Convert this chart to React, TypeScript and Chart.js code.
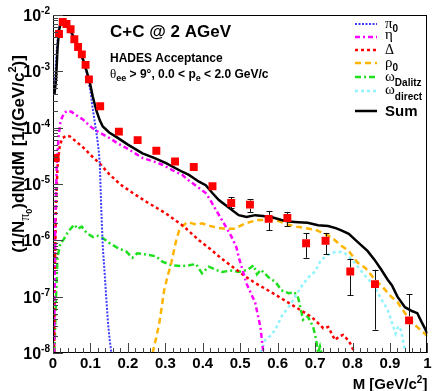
import React, { useEffect, useRef } from "react";
import { Chart, registerables } from "chart.js";
Chart.register(...registerables);

const SANS = '"Liberation Sans", Arial, Helvetica, sans-serif';
const SERIF = '"Liberation Serif", "DejaVu Serif", serif';

// ---- measured data points (mass, yield, error bar top, error bar bottom)
const dataM = [0.007, 0.016, 0.026, 0.036, 0.047, 0.057, 0.067, 0.077, 0.087, 0.096, 0.126, 0.176, 0.226, 0.276, 0.326, 0.376, 0.426, 0.476, 0.526, 0.576, 0.626, 0.676, 0.728, 0.794, 0.86, 0.951];
const dataY = [2.9e-5, 4.6e-3, 7.5e-3, 6.9e-3, 5.6e-3, 3.7e-3, 2.7e-3, 2.0e-3, 1.3e-3, 7.2e-4, 2.4e-4, 8.5e-5, 6.0e-5, 3.9e-5, 2.5e-5, 2.0e-5, 9.1e-6, 4.6e-6, 4.3e-6, 2.4e-6, 2.5e-6, 8.9e-7, 9.8e-7, 2.8e-7, 1.67e-7, 3.8e-8];
const dataYHigh = [2.9e-5, 4.6e-3, 7.5e-3, 6.9e-3, 5.6e-3, 3.7e-3, 2.7e-3, 2.0e-3, 1.3e-3, 7.2e-4, 2.4e-4, 1.0e-4, 6.8e-5, 4.3e-5, 2.7e-5, 2.2e-5, 1.08e-5, 5.9e-6, 5.4e-6, 3.3e-6, 3.2e-6, 1.35e-6, 1.35e-6, 4.7e-7, 3.0e-7, 1.1e-7];
const dataYLow = [2.9e-5, 4.6e-3, 7.5e-3, 6.9e-3, 5.6e-3, 3.7e-3, 2.7e-3, 2.0e-3, 1.3e-3, 7.2e-4, 2.4e-4, 7.2e-5, 5.4e-5, 3.5e-5, 2.3e-5, 1.8e-5, 7.8e-6, 3.75e-6, 3.2e-6, 1.5e-6, 1.8e-6, 4.9e-7, 5.7e-7, 1.07e-7, 2.6e-8, 1e-9];

// ---- simulated cocktail components
const pi0M = [0.004, 0.006, 0.01, 0.015, 0.02, 0.025, 0.03, 0.04, 0.05, 0.06, 0.07, 0.08, 0.09, 0.1, 0.106, 0.112, 0.118, 0.122, 0.125, 0.129, 0.133, 0.138, 0.142, 0.147, 0.151, 0.156];
const pi0Y = [4e-4, 8e-4, 2.5e-3, 5.5e-3, 7.2e-3, 7.7e-3, 7.4e-3, 6.1e-3, 4.6e-3, 3.3e-3, 2.3e-3, 1.55e-3, 9.5e-4, 4.5e-4, 2.2e-4, 1.2e-4, 6.5e-5, 4e-5, 2.3e-5, 3.5e-6, 7.6e-7, 2.6e-7, 1e-7, 3.4e-8, 1.8e-8, 1e-8];

const etaM = [0.003, 0.006, 0.01, 0.015, 0.02, 0.03, 0.04, 0.05, 0.06, 0.08, 0.1, 0.12, 0.15, 0.17, 0.2, 0.239, 0.27, 0.292, 0.32, 0.345, 0.363, 0.39, 0.408, 0.42, 0.435, 0.451, 0.465, 0.477, 0.49, 0.496, 0.505, 0.517, 0.53, 0.54, 0.554, 0.562];
const etaY = [1e-8, 2e-6, 2e-5, 7e-5, 1.3e-4, 1.85e-4, 2e-4, 1.9e-4, 1.7e-4, 1.4e-4, 1.05e-4, 8.5e-5, 6.6e-5, 5.4e-5, 4.2e-5, 2.9e-5, 2.5e-5, 2.2e-5, 1.75e-5, 1.45e-5, 1.15e-5, 8.5e-6, 6.9e-6, 5.2e-6, 3.5e-6, 2.3e-6, 1.6e-6, 1.15e-6, 7.5e-7, 5e-7, 3.2e-7, 1.7e-7, 1.1e-7, 7.8e-8, 2.9e-8, 1e-8];

const deltaM = [0.003, 0.005, 0.008, 0.012, 0.018, 0.025, 0.035, 0.045, 0.06, 0.08, 0.1, 0.125, 0.15, 0.18, 0.212, 0.25, 0.302, 0.35, 0.39, 0.42, 0.451, 0.49, 0.522, 0.54, 0.583, 0.629, 0.69, 0.708, 0.722, 0.735, 0.743, 0.753, 0.766, 0.775, 0.788, 0.796, 0.804, 0.808];
const deltaY = [1e-8, 3e-7, 4e-6, 2e-5, 4.8e-5, 6.5e-5, 7.2e-5, 7e-5, 5.8e-5, 4.5e-5, 3.3e-5, 2.3e-5, 1.5e-5, 9.8e-6, 7e-6, 4.8e-6, 3e-6, 1.75e-6, 1.0e-6, 7e-7, 4.7e-7, 3e-7, 2.1e-7, 1.75e-7, 1.2e-7, 7.8e-8, 4.4e-8, 3.4e-8, 2.75e-8, 2.9e-8, 2.3e-8, 1.7e-8, 2.0e-8, 2.1e-8, 1.7e-8, 1.4e-8, 1.05e-8, 8e-9];

const rhoM = [0.266, 0.275, 0.284, 0.297, 0.306, 0.316, 0.329, 0.337, 0.345, 0.358, 0.372, 0.382, 0.398, 0.42, 0.443, 0.465, 0.483, 0.5, 0.514, 0.53, 0.549, 0.57, 0.594, 0.61, 0.629, 0.65, 0.673, 0.7, 0.72, 0.743, 0.77, 0.79, 0.814, 0.835, 0.86, 0.88, 0.9, 0.92, 0.947, 0.97, 1.0];
const rhoY = [1e-8, 1.8e-8, 3.4e-8, 1.3e-7, 2.3e-7, 4e-7, 1e-6, 1.5e-6, 1.75e-6, 2.1e-6, 2.0e-6, 1.9e-6, 2.0e-6, 1.8e-6, 1.65e-6, 1.6e-6, 1.6e-6, 1.8e-6, 2.0e-6, 2.15e-6, 2.3e-6, 2.3e-6, 2.3e-6, 2.1e-6, 1.9e-6, 1.75e-6, 1.65e-6, 1.55e-6, 1.35e-6, 1.15e-6, 8e-7, 6.5e-7, 4e-7, 3.2e-7, 2e-7, 1.5e-7, 1.05e-7, 8e-8, 4.4e-8, 3e-8, 2e-8];

const omDalM = [0.004, 0.008, 0.012, 0.02, 0.027, 0.04, 0.05, 0.058, 0.065, 0.077, 0.09, 0.106, 0.12, 0.133, 0.15, 0.17, 0.196, 0.212, 0.225, 0.257, 0.275, 0.292, 0.318, 0.345, 0.363, 0.382, 0.398, 0.416, 0.435, 0.451, 0.475, 0.496, 0.52, 0.536, 0.545, 0.555, 0.576, 0.595, 0.61, 0.629, 0.645, 0.655, 0.668, 0.68, 0.695, 0.703, 0.708, 0.713, 0.72];
const omDalY = [1e-8, 1e-7, 5e-7, 9e-7, 1e-6, 1.4e-6, 1.7e-6, 1.9e-6, 1.6e-6, 1.75e-6, 1.35e-6, 1.15e-6, 1.2e-6, 1.1e-6, 9e-7, 7.5e-7, 6.3e-7, 4.9e-7, 5.9e-7, 5.5e-7, 5.2e-7, 4.2e-7, 3.6e-7, 3.5e-7, 3.6e-7, 3.8e-7, 2.6e-7, 3.4e-7, 3.0e-7, 2.75e-7, 2.9e-7, 2.75e-7, 3.0e-7, 3.6e-7, 2.5e-7, 3.0e-7, 2.2e-7, 1.8e-7, 1.3e-7, 1.15e-7, 1.2e-7, 9.5e-8, 3.9e-8, 4.5e-8, 2.9e-8, 1.7e-8, 1e-8, 1.3e-8, 8e-9];

const omDirM = [0.554, 0.567, 0.58, 0.594, 0.61, 0.625, 0.637, 0.65, 0.663, 0.682, 0.7, 0.716, 0.735, 0.753, 0.77, 0.78, 0.8, 0.814, 0.835, 0.859, 0.877, 0.894, 0.905, 0.915, 0.922, 0.93, 0.936, 0.942];
const omDirY = [1e-8, 1.7e-8, 2e-8, 2.6e-8, 4.4e-8, 6e-8, 7.8e-8, 1.1e-7, 1.5e-7, 2.2e-7, 2.8e-7, 4.5e-7, 5.5e-7, 6.2e-7, 6.2e-7, 5.9e-7, 4.5e-7, 3.4e-7, 2.3e-7, 1.5e-7, 9e-8, 5.8e-8, 3.5e-8, 2.2e-8, 3e-8, 2.5e-8, 1.5e-8, 1e-8];

const sumM = [0.004, 0.008, 0.012, 0.016, 0.02, 0.026, 0.03, 0.04, 0.05, 0.06, 0.07, 0.08, 0.09, 0.098, 0.106, 0.116, 0.125, 0.133, 0.15, 0.17, 0.2, 0.239, 0.27, 0.302, 0.345, 0.363, 0.39, 0.408, 0.425, 0.443, 0.47, 0.496, 0.517, 0.54, 0.56, 0.583, 0.61, 0.629, 0.655, 0.68, 0.708, 0.735, 0.755, 0.77, 0.79, 0.814, 0.84, 0.859, 0.877, 0.894, 0.905, 0.92, 0.94, 0.96, 0.973, 0.985, 0.995, 1.0];
const sumY = [4e-4, 7e-4, 2.5e-3, 5.3e-3, 7e-3, 7.9e-3, 7.7e-3, 6.4e-3, 4.8e-3, 3.5e-3, 2.5e-3, 1.65e-3, 1.0e-3, 6.5e-4, 3.6e-4, 2.0e-4, 1.35e-4, 1.05e-4, 8.2e-5, 6.8e-5, 5e-5, 3.5e-5, 2.9e-5, 2.35e-5, 1.65e-5, 1.45e-5, 1.1e-5, 9.5e-6, 7e-6, 5.2e-6, 3.8e-6, 2.8e-6, 2.6e-6, 2.8e-6, 2.7e-6, 2.6e-6, 2.3e-6, 2.15e-6, 2.1e-6, 2.05e-6, 1.85e-6, 1.8e-6, 1.65e-6, 1.5e-6, 1.3e-6, 9.3e-7, 6.5e-7, 4.5e-7, 3.0e-7, 2.0e-7, 1.6e-7, 1.0e-7, 6.5e-8, 5.5e-8, 5.1e-8, 3.5e-8, 2.6e-8, 2.2e-8];

// ---- axis ticks
const xTickValues = [0, 0.1, 0.2, 0.3, 0.4, 0.5, 0.6, 0.7, 0.8, 0.9, 1];
const xTickLabels = ["0", "0.1", "0.2", "0.3", "0.4", "0.5", "0.6", "0.7", "0.8", "0.9", "1"];
const yTickExponents = [-8, -7, -6, -5, -4, -3, -2];

type Part = { t: string; f: string; dy?: number };

function partsWidth(ctx: CanvasRenderingContext2D, parts: Part[]) {
  let w = 0;
  for (const p of parts) {
    ctx.font = p.f;
    w += ctx.measureText(p.t).width;
  }
  return w;
}
function drawParts(ctx: CanvasRenderingContext2D, x: number, y: number, parts: Part[]) {
  let cx = x;
  for (const p of parts) {
    ctx.font = p.f;
    ctx.fillText(p.t, cx, y + (p.dy || 0));
    cx += ctx.measureText(p.t).width;
  }
}

const COLORS = {
  pi0: "#3c3cff",
  eta: "#ff00ff",
  delta: "#ff0000",
  rho: "#ffb400",
  omDal: "#1ee01e",
  omDir: "#8ff4ff",
  sum: "#000000",
};

const legendItems: { color: string; dash: number[]; width: number; parts: Part[]; y: number; base: number }[] = [
  { color: COLORS.pi0, dash: [2, 1.5], width: 2, y: 24, base: 28, parts: [{ t: "π", f: `15px ${SERIF}` }, { t: "0", f: `bold 10px ${SANS}`, dy: 4 }] },
  { color: COLORS.eta, dash: [5, 3, 2, 3], width: 2.5, y: 37, base: 39, parts: [{ t: "η", f: `15px ${SERIF}` }] },
  { color: COLORS.delta, dash: [3, 3], width: 2.5, y: 50, base: 54, parts: [{ t: "Δ", f: `14px ${SERIF}` }] },
  { color: COLORS.rho, dash: [6, 4], width: 2.5, y: 63, base: 67, parts: [{ t: "ρ", f: `15px ${SERIF}` }, { t: "0", f: `bold 10px ${SANS}`, dy: 4 }] },
  { color: COLORS.omDal, dash: [6, 3, 2, 3], width: 2.5, y: 77, base: 81, parts: [{ t: "ω", f: `15px ${SERIF}` }, { t: "Dalitz", f: `bold 10px ${SANS}`, dy: 5 }] },
  { color: COLORS.omDir, dash: [3, 3], width: 2.5, y: 91, base: 94, parts: [{ t: "ω", f: `15px ${SERIF}` }, { t: "direct", f: `bold 10px ${SANS}`, dy: 6 }] },
  { color: COLORS.sum, dash: [], width: 2.5, y: 111, base: 116, parts: [{ t: "Sum", f: `bold 15px ${SANS}` }] },
];

const decorPlugin = {
  id: "rootDecor",
  beforeDatasetDraw(chart: any, args: any) {
    if (args.index !== 0) return;
    const ctx: CanvasRenderingContext2D = chart.ctx;
    const xs = chart.scales.x;
    const ys = chart.scales.y;
    const ca = chart.chartArea;
    ctx.save();
    ctx.beginPath();
    ctx.rect(ca.left, ca.top, ca.right - ca.left, ca.bottom - ca.top);
    ctx.clip();
    ctx.strokeStyle = "#111";
    ctx.lineWidth = 1;
    for (let i = 0; i < dataM.length; i++) {
      const px = Math.round(xs.getPixelForValue(dataM[i])) + 0.5;
      const pc = ys.getPixelForValue(dataY[i]);
      const ph = ys.getPixelForValue(dataYHigh[i]);
      const pl = ys.getPixelForValue(dataYLow[i]);
      ctx.beginPath();
      if (pc - ph > 4.5) {
        ctx.moveTo(px, ph);
        ctx.lineTo(px, pc - 4);
        ctx.moveTo(px - 3, Math.round(ph) + 0.5);
        ctx.lineTo(px + 3, Math.round(ph) + 0.5);
      }
      if (pl - pc > 4.5) {
        ctx.moveTo(px, pc + 4);
        ctx.lineTo(px, pl);
        ctx.moveTo(px - 3, Math.round(pl) + 0.5);
        ctx.lineTo(px + 3, Math.round(pl) + 0.5);
      }
      ctx.stroke();
    }
    ctx.restore();
  },
  afterDraw(chart: any) {
    const ctx: CanvasRenderingContext2D = chart.ctx;
    const xs = chart.scales.x;
    const ys = chart.scales.y;
    const { left, right, top, bottom } = chart.chartArea;
    ctx.save();
    // frame
    ctx.strokeStyle = "#000";
    ctx.lineWidth = 1;
    ctx.strokeRect(Math.round(left) + 0.5, Math.round(top) + 0.5, Math.round(right - left) - 1, Math.round(bottom - top) - 1);
    // x ticks
    ctx.strokeStyle = "#444";
    ctx.beginPath();
    for (let i = 0; i <= 50; i++) {
      const v = i / 50;
      const px = Math.round(xs.getPixelForValue(v)) + 0.5;
      const len = i % 5 === 0 ? 10 : 5;
      ctx.moveTo(px, bottom);
      ctx.lineTo(px, bottom - len);
    }
    // y ticks
    for (let e = -8; e <= -2; e++) {
      for (let k = 1; k <= 9; k++) {
        const v = k * Math.pow(10, e);
        if (v > 1.0001e-2) break;
        const py = Math.round(ys.getPixelForValue(v)) + 0.5;
        const len = k === 1 ? 10 : 5;
        ctx.moveTo(left, py);
        ctx.lineTo(left + len, py);
      }
    }
    ctx.stroke();

    ctx.fillStyle = "#000";
    ctx.textBaseline = "alphabetic";
    // x tick labels
    ctx.font = `bold 15px ${SANS}`;
    ctx.textAlign = "center";
    xTickValues.forEach((v, i) => {
      ctx.fillText(xTickLabels[i], xs.getPixelForValue(v), bottom + 15);
    });
    // y tick labels
    ctx.textAlign = "left";
    yTickExponents.forEach((e) => {
      const py = ys.getPixelForValue(Math.pow(10, e));
      const sup = String(e);
      ctx.font = `bold 10px ${SANS}`;
      const w2 = ctx.measureText(sup).width;
      ctx.font = `bold 16px ${SANS}`;
      const w1 = ctx.measureText("10").width;
      const xr = left - 3;
      ctx.fillText("10", xr - w2 - w1, py + 6);
      ctx.font = `bold 10px ${SANS}`;
      ctx.fillText(sup, xr - w2, py - 1);
    });

    // x title
    const xt: Part[] = [
      { t: "M [GeV/c", f: `bold 15px ${SANS}` },
      { t: "2", f: `bold 10px ${SANS}`, dy: -6 },
      { t: "]", f: `bold 15px ${SANS}` },
    ];
    const xw = partsWidth(ctx, xt);
    drawParts(ctx, right - xw, bottom + 36, xt);

    // y title (rotated)
    const B = `bold 17px ${SANS}`;
    const yt: Part[] = [
      { t: "(1/N", f: B },
      { t: "π", f: `14px ${SERIF}`, dy: 5 },
      { t: "0", f: `bold 9px ${SANS}`, dy: 8 },
      { t: ")dN/dM [1/(GeV/c", f: B },
      { t: "2", f: `bold 11px ${SANS}`, dy: -8 },
      { t: ")]", f: B },
    ];
    const yw = partsWidth(ctx, yt);
    ctx.save();
    ctx.translate(24, 154);
    ctx.rotate(-Math.PI / 2);
    drawParts(ctx, -yw / 2, 0, yt);
    ctx.restore();

    // annotations
    ctx.font = `bold 17px ${SANS}`;
    ctx.fillText("C+C @ 2 AGeV", 110, 37);
    ctx.font = `bold 12px ${SANS}`;
    ctx.fillText("HADES Acceptance", 110, 62);
    drawParts(ctx, 110, 78, [
      { t: "θ", f: `13px ${SERIF}` },
      { t: "ee", f: `bold 9px ${SANS}`, dy: 3 },
      { t: " > 9°, 0.0 < p", f: `bold 12px ${SANS}` },
      { t: "e", f: `bold 9px ${SANS}`, dy: 3 },
      { t: " < 2.0 GeV/c", f: `bold 12px ${SANS}` },
    ]);

    // legend
    legendItems.forEach((it) => {
      ctx.save();
      ctx.strokeStyle = it.color;
      ctx.lineWidth = it.width;
      ctx.setLineDash(it.dash);
      ctx.beginPath();
      ctx.moveTo(355, it.y);
      ctx.lineTo(377, it.y);
      ctx.stroke();
      ctx.restore();
      ctx.fillStyle = "#000";
      drawParts(ctx, 385, it.base, it.parts);
    });
    ctx.restore();
  },
};

const mk = (xs: number[], ys: number[]) => xs.map((x, i) => ({ x, y: ys[i] }));

export default function App() {
  const ref = useRef<HTMLCanvasElement | null>(null);
  useEffect(() => {
    if (!ref.current) return;
    const line = (label: string, xs: number[], ys: number[], color: string, dash: number[], width: number) => ({
      label,
      data: mk(xs, ys),
      showLine: true,
      borderColor: color,
      backgroundColor: color,
      borderWidth: width,
      borderDash: dash,
      pointRadius: 0,
      tension: 0,
      fill: false,
    });
    const chart = new Chart(ref.current, {
      type: "scatter",
      data: {
        datasets: [
          {
            label: "data",
            data: mk(dataM, dataY),
            showLine: false,
            pointStyle: "rect",
            pointRadius: 5.6,
            backgroundColor: "#ff0000",
            borderColor: "#ff0000",
            borderWidth: 0,
          } as any,
          line("Sum", sumM, sumY, COLORS.sum, [], 2.5),
          line("pi0", pi0M, pi0Y, COLORS.pi0, [2, 1.5], 2),
          line("eta", etaM, etaY, COLORS.eta, [5, 3, 2, 3], 2.5),
          line("delta", deltaM, deltaY, COLORS.delta, [3, 3], 2.5),
          line("rho", rhoM, rhoY, COLORS.rho, [6, 4], 2.5),
          line("omegaDalitz", omDalM, omDalY, COLORS.omDal, [6, 3, 2, 3], 2.5),
          line("omegaDirect", omDirM, omDirY, COLORS.omDir, [3, 3], 2.5),
        ],
      },
      options: {
        animation: false,
        responsive: false,
        maintainAspectRatio: false,
        devicePixelRatio: 1,
        layout: { padding: { left: 0, right: 3, top: 15, bottom: 0 } },
        plugins: { legend: { display: false }, tooltip: { enabled: false }, title: { display: false } },
        events: [],
        scales: {
          x: {
            type: "linear",
            min: 0,
            max: 1,
            ticks: { display: false },
            grid: { display: false, drawTicks: false },
            border: { display: false },
            afterFit: (s: any) => {
              s.height = 38;
            },
          },
          y: {
            type: "logarithmic",
            min: 1e-8,
            max: 1e-2,
            ticks: { display: false },
            grid: { display: false, drawTicks: false },
            border: { display: false },
            afterFit: (s: any) => {
              s.width = 53;
            },
          },
        },
      } as any,
      plugins: [decorPlugin as any],
    });
    return () => chart.destroy();
  }, []);
  return (
    <div style={{ position: "absolute", left: 0, top: 0, width: 433, height: 391, background: "#fff" }}>
      <canvas ref={ref} width={433} height={391} style={{ display: "block" }} />
    </div>
  );
}
